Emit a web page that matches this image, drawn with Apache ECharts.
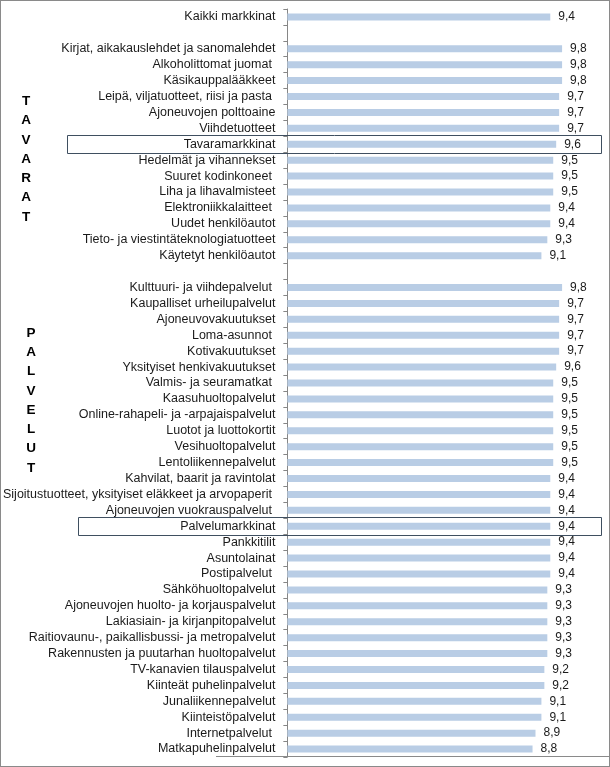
<!DOCTYPE html>
<html>
<head>
<meta charset="utf-8">
<script src="https://cdn.jsdelivr.net/npm/echarts@6/dist/echarts.min.js"></script>
<style>
html,body{margin:0;padding:0;background:#fff;}
#frame{position:relative;width:610px;height:767px;box-sizing:border-box;border:1px solid #8a8a8a;}
#chart{position:absolute;left:-1px;top:-1px;width:610px;height:767px;}
</style>
</head>
<body>
<div id="frame"><div id="chart"></div></div>
<script>
const categories = [
  "Kaikki markkinat",
  "",
  "Kirjat, aikakauslehdet ja sanomalehdet",
  "Alkoholittomat juomat ",
  "Käsikauppalääkkeet",
  "Leipä, viljatuotteet, riisi ja pasta ",
  "Ajoneuvojen polttoaine",
  "Viihdetuotteet",
  "Tavaramarkkinat",
  "Hedelmät ja vihannekset",
  "Suuret kodinkoneet ",
  "Liha ja lihavalmisteet",
  "Elektroniikkalaitteet ",
  "Uudet henkilöautot",
  "Tieto- ja viestintäteknologiatuotteet",
  "Käytetyt henkilöautot",
  " ",
  "Kulttuuri- ja viihdepalvelut ",
  "Kaupalliset urheilupalvelut",
  "Ajoneuvovakuutukset",
  "Loma-asunnot ",
  "Kotivakuutukset",
  "Yksityiset henkivakuutukset",
  "Valmis- ja seuramatkat ",
  "Kaasuhuoltopalvelut",
  "Online-rahapeli- ja -arpajaispalvelut",
  "Luotot ja luottokortit",
  "Vesihuoltopalvelut",
  "Lentoliikennepalvelut",
  "Kahvilat, baarit ja ravintolat",
  "Sijoitustuotteet, yksityiset eläkkeet ja arvopaperit ",
  "Ajoneuvojen vuokrauspalvelut ",
  "Palvelumarkkinat",
  "Pankkitilit",
  "Asuntolainat",
  "Postipalvelut ",
  "Sähköhuoltopalvelut",
  "Ajoneuvojen huolto- ja korjauspalvelut",
  "Lakiasiain- ja kirjanpitopalvelut",
  "Raitiovaunu-, paikallisbussi- ja metropalvelut",
  "Rakennusten ja puutarhan huoltopalvelut",
  "TV-kanavien tilauspalvelut",
  "Kiinteät puhelinpalvelut",
  "Junaliikennepalvelut",
  "Kiinteistöpalvelut",
  "Internetpalvelut ",
  "Matkapuhelinpalvelut"
];
const values = [
  9.4,
  null,
  9.8, 9.8, 9.8, 9.7, 9.7, 9.7, 9.6, 9.5, 9.5, 9.5, 9.4, 9.4, 9.3, 9.1,
  null,
  9.8, 9.7, 9.7, 9.7, 9.7, 9.6, 9.5, 9.5, 9.5, 9.5, 9.5, 9.5, 9.4, 9.4,
  9.4, 9.4, 9.4, 9.4, 9.4, 9.3, 9.3, 9.3, 9.3, 9.3, 9.2, 9.2, 9.1, 9.1,
  8.9, 8.8
];
const highlighted = ["Tavaramarkkinat", "Palvelumarkkinat"];
const groupLabels = ["TAVARAT", "PALVELUT"];

const FONT = "'Liberation Sans', Arial, sans-serif";
const chart = echarts.init(document.getElementById('chart'), null, {renderer: 'canvas'});

const option = {
  animation: false,
  backgroundColor: 'transparent',
  grid: {left: 286, right: 42, top: 9, bottom: 10, containLabel: false},
  xAxis: {
    type: 'value', min: 0.5, max: 10,
    show: false
  },
  yAxis: {
    type: 'category', inverse: true, data: categories,
    axisLine: {show: true, lineStyle: {color: '#868686', width: 1}},
    axisTick: {show: true, length: 4, lineStyle: {color: '#868686'}},
    axisLabel: {
      interval: 0, margin: 12, color: '#1a1a1a',
      fontFamily: FONT, fontSize: 12.5
    },
    splitLine: {show: false}
  },
  series: [{
    type: 'bar',
    data: values,
    barWidth: 7,
    itemStyle: {color: '#b9cde5'},
    label: {
      show: true, position: 'right', distance: 8,
      color: '#1a1a1a', fontFamily: FONT, fontSize: 12,
      formatter: p => p.value == null ? '' : p.value.toFixed(1).replace('.', ',')
    }
  }]
};
chart.setOption(option);

const rowY = name => chart.convertToPixel({yAxisIndex: 0}, name);
const graphics = [];
const boxLeft = [67, 78];
highlighted.forEach((name, i) => {
  const y = rowY(name);
  graphics.push({
    type: 'rect', silent: true, z: 10,
    shape: {x: boxLeft[i] + 0.5, y: Math.round(y - 9) + 0.5, width: 601 - boxLeft[i], height: 18},
    style: {fill: 'none', stroke: '#3f4f60', lineWidth: 1}
  });
});
const lastY = rowY(categories[categories.length - 1]);
graphics.push({
  type: 'line', silent: true,
  shape: {x1: 216, y1: Math.round(lastY + 7) + 0.5, x2: 609, y2: Math.round(lastY + 7) + 0.5},
  style: {stroke: '#8a8a8a', lineWidth: 1}
});
const groupPos = [{x: 26, y: rowY("Leipä, viljatuotteet, riisi ja pasta ") - 5}, {x: 31, y: rowY("Loma-asunnot ") - 12}];
groupLabels.forEach((txt, i) => {
  graphics.push({
    type: 'text', silent: true,
    x: groupPos[i].x, y: groupPos[i].y,
    style: {
      text: txt.split('').join('\n'),
      fontFamily: FONT, fontWeight: 'bold', fontSize: 13.5,
      lineHeight: 19.3, fill: '#000', align: 'center', verticalAlign: 'top'
    }
  });
});
chart.setOption({graphic: graphics});
</script>
</body>
</html>
